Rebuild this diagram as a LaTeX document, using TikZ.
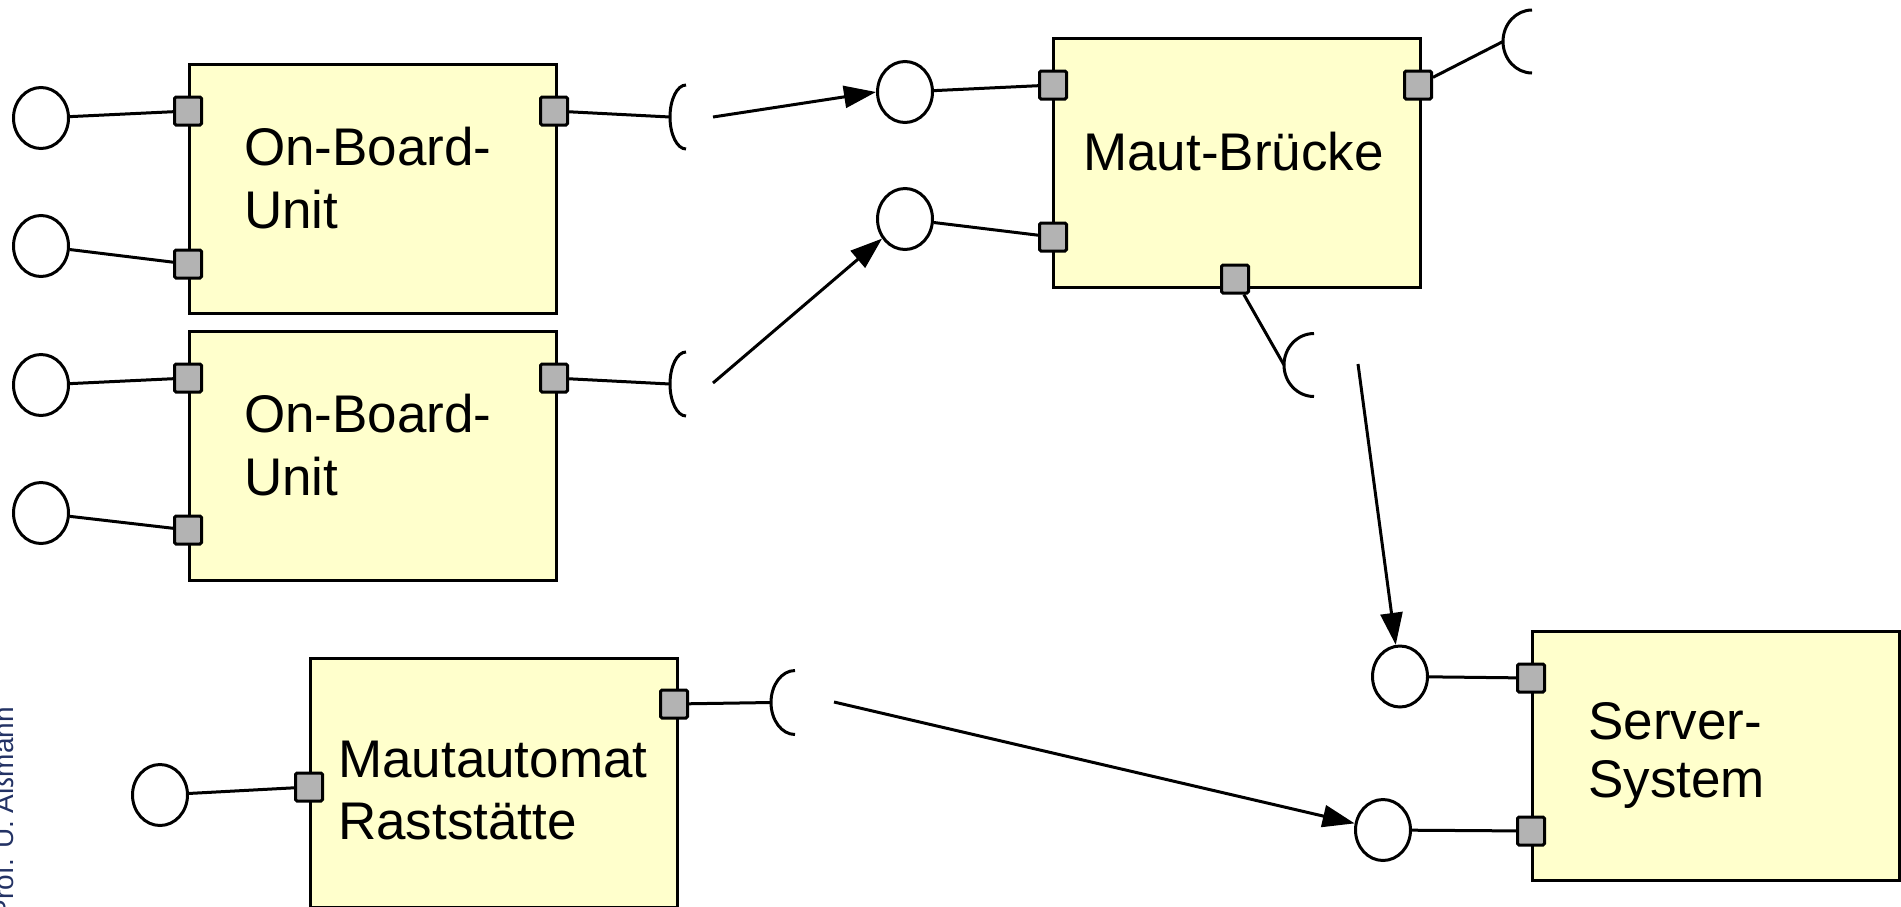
\documentclass[tikz,border=0pt]{standalone}
\usepackage{fontspec}
\setmainfont{Liberation Sans}
\usetikzlibrary{arrows.meta,shapes.geometric}
\definecolor{compfill}{HTML}{FFFFCC}
\definecolor{portgray}{HTML}{B3B3B3}
\definecolor{navytext}{RGB}{35,50,100}
\newcommand{\twolines}[3]{{\fontsize{53}{#3}\selectfont\begin{tabular}[t]{@{}l@{}}#1\\#2\end{tabular}}}
\begin{document}
\begin{tikzpicture}[x=1pt,y=-1pt,
  comp/.style={draw, line width=3pt, fill=compfill, rectangle, inner sep=0pt, minimum width=367pt, minimum height=249pt},
  port/.style={draw, line width=3pt, fill=portgray, rectangle, rounded corners=1.5pt, inner sep=0pt, minimum width=27pt, minimum height=28pt},
  iface/.style={draw, line width=3pt, fill=white, ellipse, inner sep=0pt, minimum width=55pt, minimum height=61pt},
  wire/.style={line width=3pt},
  dep/.style={line width=3pt, -{Triangle[length=32pt,width=22pt]}},
  lbl/.style={anchor=base west, inner sep=0pt},
]
\useasboundingbox (0,0) rectangle (1901,906);
\clip (0,0) rectangle (1901,906);

% components
\node[comp] (obu1) at (372.7,189.2) {};
\node[comp] (obu2) at (372.7,456) {};
\node[comp] (maut) at (1237,162.8) {};
\node[comp] (server) at (1715.7,756.2) {};
\node[comp] (automat) at (493.5,782.5) {};

% labels
\node[lbl] (t1) at (244,165) {\twolines{On-Board-}{Unit}{63}};
\node[lbl] (t2) at (244,432) {\twolines{On-Board-}{Unit}{63}};
\node[lbl] (t3) at (1083,170.7) {\fontsize{53}{63}\selectfont Maut-Brücke};
\node[lbl] (t4) at (1588,739) {\twolines{Server-}{System}{58}};
\node[lbl] (t5) at (338,777) {\twolines{Mautautomat}{Raststätte}{62}};

% ports
\node[port] (o1l1) at (188,111) {};
\node[port] (o1l2) at (188,264) {};
\node[port] (o1r) at (554,111) {};
\node[port] (o2l1) at (188,378) {};
\node[port] (o2l2) at (188,530) {};
\node[port] (o2r) at (554,378) {};
\node[port] (ml1) at (1053,85) {};
\node[port] (ml2) at (1053,237) {};
\node[port] (mr) at (1418,85) {};
\node[port] (mb) at (1235,279) {};
\node[port] (sl1) at (1531,678) {};
\node[port] (sl2) at (1531,831) {};
\node[port] (al) at (309,787) {};
\node[port] (ar) at (674,704) {};

% provided interfaces
\node[iface] (c1) at (41,118) {};
\node[iface] (c2) at (41,246) {};
\node[iface] (c3) at (41,385) {};
\node[iface] (c4) at (41,513) {};
\node[iface] (cm1) at (905,92) {};
\node[iface] (cm2) at (905,219) {};
\node[iface] (cs1) at (1400,676.5) {};
\node[iface] (cs2) at (1383,830) {};
\node[iface] (ca) at (160,795) {};

% required interfaces (sockets)
\coordinate (s1) at (670,117);
\coordinate (s2) at (670,384);
\coordinate (s3) at (1503,41.5);
\coordinate (s4) at (1284,365);
\coordinate (s5) at (771,702.5);
\draw[wire] ([shift={(16,32)}]s1) arc[start angle=90,end angle=270,x radius=16,y radius=32];
\draw[wire] ([shift={(16,32)}]s2) arc[start angle=90,end angle=270,x radius=16,y radius=32];
\draw[wire] ([shift={(29,31.5)}]s3) arc[start angle=90,end angle=270,x radius=29,y radius=31.5];
\draw[wire] ([shift={(30,31.5)}]s4) arc[start angle=90,end angle=270,x radius=30,y radius=31.5];
\draw[wire] ([shift={(24,32)}]s5) arc[start angle=90,end angle=270,x radius=24,y radius=32];

% wires
\draw[wire] (c1) -- (o1l1);
\draw[wire] (c2) -- (o1l2);
\draw[wire] (c3) -- (o2l1);
\draw[wire] (c4) -- (o2l2);
\draw[wire] (o1r) -- (s1);
\draw[wire] (o2r) -- (s2);
\draw[wire] (cm1) -- (ml1);
\draw[wire] (cm2) -- (ml2);
\draw[wire] (mr) -- (s3);
\draw[wire] (mb) -- (s4);
\draw[wire] (cs1) -- (sl1);
\draw[wire] (cs2) -- (sl2);
\draw[wire] (ca) -- (al);
\draw[wire] (ar) -- (s5);

% dependencies
\coordinate (a1) at (713,117);
\coordinate (a2) at (713,383);
\coordinate (a3) at (1358,364);
\coordinate (a4) at (834,702);
\draw[dep] (a1) -- (cm1.west);
\draw[dep] (a2) -- (cm2);
\draw[dep] (a3) -- (cs1);
\draw[dep] (a4) -- (cs2);

% side note
\node[rotate=90, anchor=base east, inner sep=0pt, text=navytext, font=\fontsize{28}{34}\selectfont] (note) at (13,707) {Prof. U. Aßmann};
\end{tikzpicture}
\end{document}
